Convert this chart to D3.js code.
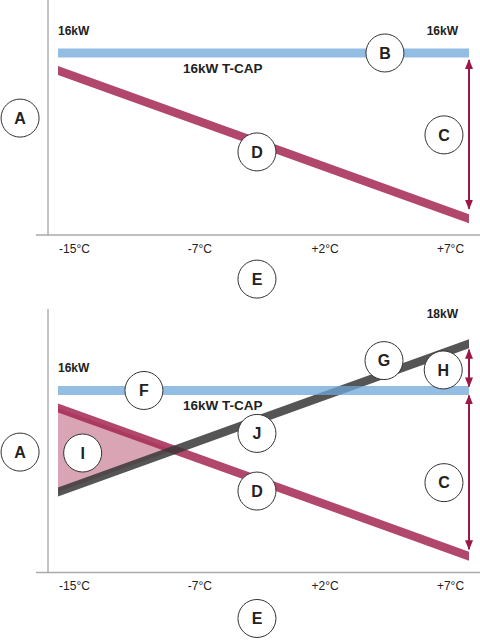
<!DOCTYPE html>
<html>
<head>
<meta charset="utf-8">
<script src="https://cdn.jsdelivr.net/npm/d3@7"></script>
<style>
  body { margin: 0; background: #fff; }
  svg { display: block; font-family: 'Liberation Sans', Arial, sans-serif; }
</style>
</head>
<body>
<svg id="chart"></svg>
<script>
// Outdoor temperature (x) and output in kW (y)
const temps = [-15, 7];
const tickLabels = ['-15°C', '-7°C', '+2°C', '+7°C'];
const tcapKW = [16, 16];        // T-CAP flat capacity
const standardKW = [15.25, 8.9]; // standard unit, falls off with temperature
const largerKW = [11.65, 18];    // oversized unit

const capLabel = '16kW T-CAP';

// Annotation bubbles, placed in data units (temp, kW)
const bubbles1 = [
  { id: 'A', t: -17.03, kw: 13.21 },
  { id: 'B', t: 2.5, kw: 16 },
  { id: 'C', t: 5.66, kw: 12.49 },
  { id: 'D', t: -4.35, kw: 11.76 },
  { id: 'E', t: -4.35, kw: 6.31 }
];
const bubbles2 = [
  { id: 'A', t: -17.03, kw: 13.36 },
  { id: 'F', t: -10.4, kw: 16 },
  { id: 'G', t: 2.45, kw: 17.28 },
  { id: 'H', t: 5.62, kw: 16.88 },
  { id: 'I', t: -13.68, kw: 13.32 },
  { id: 'J', t: -4.35, kw: 14.16 },
  { id: 'D', t: -4.35, kw: 11.69 },
  { id: 'C', t: 5.66, kw: 12.05 },
  { id: 'E', t: -4.35, kw: 6.23 }
];

const svg = d3.select('#chart').attr('width', 480).attr('height', 640);

const x = d3.scaleLinear().domain([-15, 7]).range([58, 469]);
const y = d3.scaleLinear().domain([8.2, 18.27]).range([235, 0]);
const xLabel = d3.scalePoint().domain(tickLabels).range([x(-15) + 16, x(7) - 19]);

const bandH = 9;
const colors = { blue: '#6fa7da', red: '#a32851', gray: '#373737', arrow: '#9c1748', fill: '#d9a4b4' };

svg.append('defs').append('marker')
  .attr('id', 'head')
  .attr('viewBox', '0 0 10 8')
  .attr('markerUnits', 'userSpaceOnUse')
  .attr('markerWidth', 10)
  .attr('markerHeight', 8)
  .attr('refX', 9)
  .attr('refY', 4)
  .attr('orient', 'auto-start-reverse')
  .append('path')
  .attr('d', 'M0,0L10,4L0,8Z')
  .attr('fill', colors.arrow);

function band(g, values, color, opacity) {
  const pts = temps.map((t, i) => ({ t, v: values[i] }));
  g.append('path')
    .datum(pts)
    .attr('d', d3.area().x(d => x(d.t)).y0(d => y(d.v) - bandH / 2).y1(d => y(d.v) + bandH / 2))
    .attr('fill', color)
    .attr('fill-opacity', opacity);
}

function arrow(g, from, to, topInset, bottomInset) {
  g.append('line')
    .attr('x1', x(7)).attr('x2', x(7))
    .attr('y1', y(from) + topInset).attr('y2', y(to) - bottomInset)
    .attr('stroke', colors.arrow)
    .attr('stroke-width', 2)
    .attr('marker-start', 'url(#head)')
    .attr('marker-end', 'url(#head)');
}

function bold(g, txt, px, py, anchor, size) {
  g.append('text')
    .attr('x', px).attr('y', py)
    .attr('text-anchor', anchor)
    .attr('font-weight', 'bold')
    .attr('font-size', size)
    .attr('fill', '#222')
    .text(txt);
}

function axes(g, top) {
  g.append('line')
    .attr('x1', 48).attr('x2', 48).attr('y1', top).attr('y2', y.range()[0])
    .attr('stroke', '#888').attr('stroke-width', 1);
  g.append('line')
    .attr('x1', 36).attr('x2', 480).attr('y1', y.range()[0]).attr('y2', y.range()[0])
    .attr('stroke', '#aaa').attr('stroke-width', 1.5);

  const ax = g.append('g')
    .attr('transform', `translate(0,${y.range()[0]})`)
    .call(d3.axisBottom(xLabel).tickSize(0).tickPadding(9));
  ax.select('.domain').remove();
  ax.selectAll('text')
    .attr('font-family', "'Liberation Sans', Arial, sans-serif")
    .attr('font-size', 12)
    .attr('fill', '#222');
}

function bubbles(g, list) {
  const b = g.selectAll('g.bubble')
    .data(list)
    .enter()
    .append('g')
    .attr('class', 'bubble')
    .attr('transform', d => `translate(${x(d.t)},${y(d.kw)})`);
  b.append('circle')
    .attr('r', 19)
    .attr('fill', '#fff')
    .attr('stroke', '#333')
    .attr('stroke-width', 1);
  b.append('text')
    .attr('text-anchor', 'middle')
    .attr('dy', '0.36em')
    .attr('font-weight', 'bold')
    .attr('font-size', 16)
    .attr('fill', '#222')
    .text(d => d.id);
}

// Top panel: T-CAP vs standard unit
const p1 = svg.append('g');
axes(p1, 0);
band(p1, standardKW, colors.red, 0.85);
band(p1, tcapKW, colors.blue, 0.75);
bold(p1, '16kW', x(-15), y(tcapKW[0]) - 18, 'start', 12);
bold(p1, '16kW', x(7) - 11, y(tcapKW[1]) - 18, 'end', 12);
bold(p1, capLabel, x(-15) + 125, y(tcapKW[0]) + 20, 'start', 13.5);
arrow(p1, tcapKW[1], standardKW[1], 7, 10);
bubbles(p1, bubbles1);

// Bottom panel: T-CAP vs standard vs oversized unit
const p2 = svg.append('g').attr('transform', 'translate(0,337.5)');
axes(p2, -28.5);

// shaded shortfall between standard and oversized units up to where they cross
const slopeS = (standardKW[1] - standardKW[0]) / (temps[1] - temps[0]);
const slopeL = (largerKW[1] - largerKW[0]) / (temps[1] - temps[0]);
const tCross = temps[0] + (largerKW[0] - standardKW[0]) / (slopeS - slopeL);
const kwCross = standardKW[0] + slopeS * (tCross - temps[0]);
p2.append('path')
  .datum([
    { t: temps[0], a: standardKW[0], b: largerKW[0] },
    { t: tCross, a: kwCross, b: kwCross }
  ])
  .attr('d', d3.area().x(d => x(d.t)).y0(d => y(d.a)).y1(d => y(d.b)))
  .attr('fill', colors.fill);

band(p2, standardKW, colors.red, 0.85);
band(p2, largerKW, colors.gray, 0.85);
band(p2, tcapKW, colors.blue, 0.75);
bold(p2, '16kW', x(-15), y(tcapKW[0]) - 18, 'start', 12);
bold(p2, '18kW', x(7) - 11, y(largerKW[1]) - 26, 'end', 12);
bold(p2, capLabel, x(-15) + 125, y(tcapKW[0]) + 20, 'start', 13.5);
arrow(p2, largerKW[1], tcapKW[1], 6, 4);
arrow(p2, tcapKW[1], standardKW[1], 5, 7);
bubbles(p2, bubbles2);
</script>
</body>
</html>
